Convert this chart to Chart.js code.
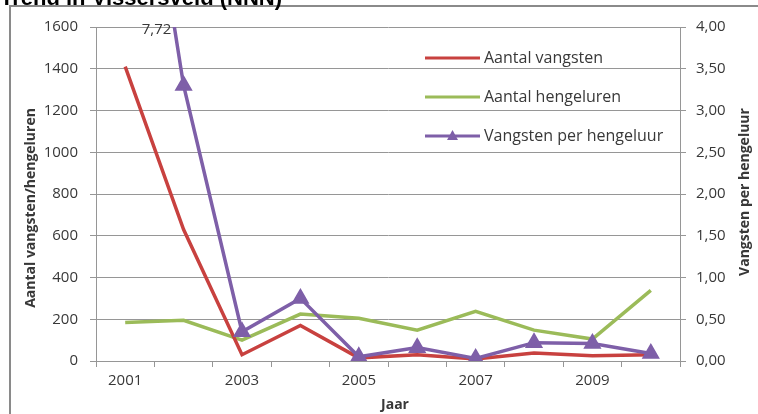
<!DOCTYPE html>
<html>
<head>
<meta charset="utf-8">
<script src="https://cdn.jsdelivr.net/npm/chart.js@4/dist/chart.umd.min.js"></script>
<style>
  html, body { margin: 0; padding: 0; background: #fff; }
  #wrap { width: 758px; height: 414px; position: relative; }
</style>
</head>
<body>
<div id="wrap"><canvas id="trendChart" width="758" height="414"></canvas></div>
<script>
const years = ['2001', '2002', '2003', '2004', '2005', '2006', '2007', '2008', '2009', '2010'];
const aantalVangsten = [1410, 630, 30, 170, 15, 30, 10, 38, 25, 30];
const aantalHengeluren = [185, 195, 100, 225, 205, 148, 238, 148, 105, 338];
const vangstenPerUur = [7.72, 3.30, 0.35, 0.75, 0.05, 0.16, 0.03, 0.22, 0.21, 0.09];
const leftMax = 1600;
const rightMax = 4;

const FONT = '"Open Sans", "DejaVu Sans", sans-serif';
const TEXT = '#383838';
const GRID = '#969696';

// frame, cut-off title, axis titles, in-plot legend and the 7,72 label
const decorations = {
    id: 'decorations',
    beforeDraw(chart) {
        const ctx = chart.ctx;
        ctx.save();
        ctx.fillStyle = '#fff';
        ctx.fillRect(0, 0, chart.width, chart.height);
        ctx.strokeStyle = '#8a8a8a';
        ctx.lineWidth = 2;
        ctx.beginPath();
        ctx.moveTo(10, chart.height);
        ctx.lineTo(10, 6);
        ctx.lineTo(chart.width, 6);
        ctx.stroke();
        ctx.fillStyle = '#000';
        ctx.font = 'bold 22px Arial, "Liberation Sans", sans-serif';
        ctx.textBaseline = 'alphabetic';
        ctx.fillText('Trend in Vissersveld (NNN)', 0, 5);
        ctx.restore();
    },
    afterDraw(chart) {
        const ctx = chart.ctx;
        const area = chart.chartArea;
        ctx.save();
        ctx.fillStyle = TEXT;
        ctx.textAlign = 'center';
        ctx.textBaseline = 'middle';
        ctx.font = 'bold 14px ' + FONT;

        ctx.save();
        ctx.translate(31, 208);
        ctx.rotate(-Math.PI / 2);
        ctx.fillText('Aantal vangsten/hengeluren', 0, 0);
        ctx.restore();

        ctx.save();
        ctx.translate(745, 192);
        ctx.rotate(-Math.PI / 2);
        ctx.fillText('Vangsten per hengeluur', 0, 0);
        ctx.restore();

        ctx.fillText('Jaar', 395, 405);

        // legend inside plot
        ctx.font = '16px ' + FONT;
        ctx.textAlign = 'left';
        chart.data.datasets.forEach((ds, i) => {
            const y = 58 + i * 39;
            ctx.strokeStyle = ds.borderColor;
            ctx.lineWidth = 3;
            ctx.beginPath();
            ctx.moveTo(425, y);
            ctx.lineTo(480, y);
            ctx.stroke();
            if (ds.pointStyle === 'triangle') {
                ctx.fillStyle = ds.borderColor;
                ctx.beginPath();
                ctx.moveTo(452.5, y - 6);
                ctx.lineTo(458, y + 4);
                ctx.lineTo(447, y + 4);
                ctx.closePath();
                ctx.fill();
            }
            ctx.fillStyle = TEXT;
            ctx.fillText(ds.label, 484, y);
        });

        // value label where the purple line leaves the plot
        const xs = chart.scales.x;
        const ys = chart.scales.y1;
        const x0 = xs.getPixelForValue(0), y0 = ys.getPixelForValue(vangstenPerUur[0]);
        const x1 = xs.getPixelForValue(1), y1 = ys.getPixelForValue(vangstenPerUur[1]);
        const t = (area.top - y0) / (y1 - y0);
        const xc = x0 + t * (x1 - x0);
        ctx.font = '15px ' + FONT;
        ctx.textAlign = 'right';
        ctx.fillText(vangstenPerUur[0].toFixed(2).replace('.', ','), xc - 3, area.top + 3);
        ctx.restore();
    }
};

new Chart(document.getElementById('trendChart'), {
    type: 'line',
    data: {
        labels: years,
        datasets: [{
            label: 'Aantal vangsten',
            data: aantalVangsten,
            borderColor: '#C8413F',
            borderWidth: 3.5,
            pointRadius: 0,
            yAxisID: 'y',
            order: 1,
        }, {
            label: 'Aantal hengeluren',
            data: aantalHengeluren,
            borderColor: '#9BBB59',
            borderWidth: 3.5,
            pointRadius: 0,
            yAxisID: 'y',
            order: 2,
        }, {
            label: 'Vangsten per hengeluur',
            data: vangstenPerUur,
            borderColor: '#7E5FA8',
            backgroundColor: '#7E5FA8',
            borderWidth: 3.5,
            pointStyle: 'triangle',
            pointRadius: 7,
            yAxisID: 'y1',
            order: 0,
        }],
    },
    options: {
        responsive: false,
        animation: false,
        layout: { padding: { top: 27, left: 0, right: 0, bottom: 0 } },
        plugins: {
            legend: { display: false },
            tooltip: { enabled: false },
        },
        scales: {
            x: {
                offset: true,
                afterFit: (s) => { s.height = 53; },
                grid: { offset: true, drawOnChartArea: false, tickLength: 6, color: GRID },
                border: { color: GRID },
                ticks: {
                    autoSkip: false,
                    maxRotation: 0,
                    padding: 5,
                    color: TEXT,
                    font: { family: FONT, size: 15 },
                    callback: (v, i) => (i % 2 === 0 ? years[i] : ''),
                },
            },
            y: {
                position: 'left',
                min: 0,
                max: leftMax,
                afterFit: (s) => { s.width = 96; },
                grid: { color: GRID, tickLength: 6 },
                border: { color: GRID },
                ticks: {
                    stepSize: 200,
                    padding: 12,
                    color: TEXT,
                    font: { family: FONT, size: 15 },
                    callback: (v) => String(v),
                },
            },
            y1: {
                position: 'right',
                min: 0,
                max: rightMax,
                afterFit: (s) => { s.width = 78; },
                grid: { drawOnChartArea: false, color: GRID, tickLength: 6 },
                border: { color: GRID },
                ticks: {
                    stepSize: 0.5,
                    padding: 10,
                    color: TEXT,
                    font: { family: FONT, size: 15 },
                    callback: (v) => v.toFixed(2).replace('.', ','),
                },
            },
        },
    },
    plugins: [decorations],
});
</script>
</body>
</html>
